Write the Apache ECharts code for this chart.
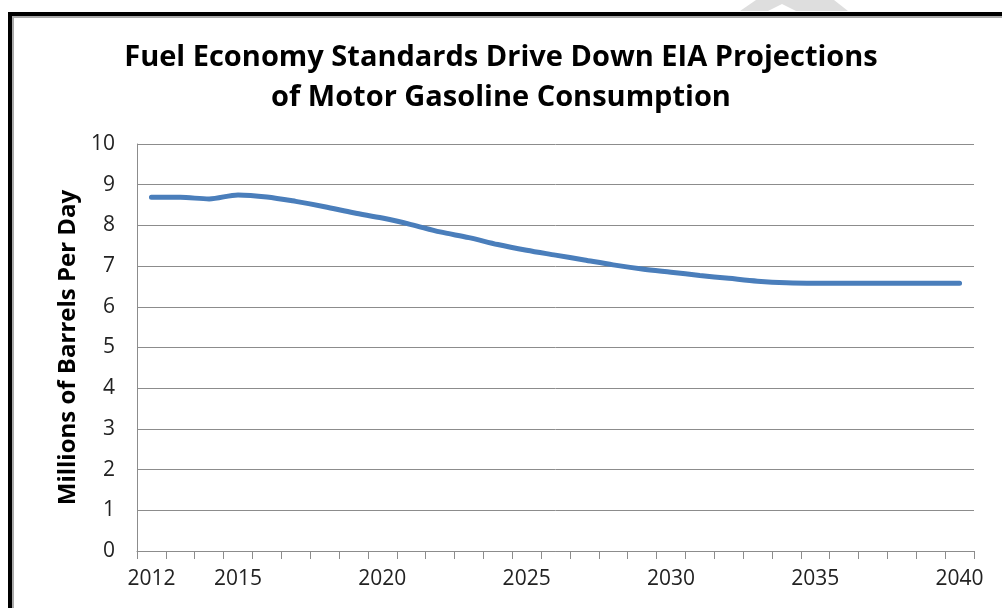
<!DOCTYPE html>
<html>
<head>
<meta charset="utf-8">
<script src="https://cdn.jsdelivr.net/npm/echarts@6/dist/echarts.min.js"></script>
<style>
  html, body { margin: 0; padding: 0; background: #fff; }
  #chart { width: 1002px; height: 608px; }
</style>
</head>
<body>
<div id="chart"></div>
<script>
// years on the x axis
const years = [];
for (let y = 2012; y <= 2040; y++) years.push(String(y));

// motor gasoline consumption, millions of barrels per day
const gasoline = [
  8.69, 8.69, 8.65, 8.75, 8.70, 8.59, 8.46, 8.31, 8.18, 8.02,
  7.84, 7.70, 7.53, 7.39, 7.27, 7.15, 7.03, 6.93, 6.85, 6.77,
  6.70, 6.63, 6.59, 6.58, 6.58, 6.58, 6.58, 6.58, 6.58
];

// labelled years
const labelYears = ['2012', '2015', '2020', '2025', '2030', '2035', '2040'];

const titleText = 'Fuel Economy Standards Drive Down EIA Projections\nof Motor Gasoline Consumption';
const yName = 'Millions of Barrels Per Day';

const chart = echarts.init(document.getElementById('chart'));

const option = {
  backgroundColor: '#fff',
  animation: false,
  title: {
    text: titleText,
    left: 'center',
    top: 33,
    textStyle: {
      fontFamily: 'Open Sans',
      fontSize: 29,
      fontWeight: 'bold',
      color: '#000',
      lineHeight: 40
    }
  },
  grid: {
    left: 137,
    right: 28,
    top: 144,
    bottom: 57,
    containLabel: false
  },
  xAxis: {
    type: 'category',
    data: years,
    boundaryGap: true,
    axisLine: { lineStyle: { color: '#8c8c8c', width: 1 } },
    axisTick: { show: true, interval: 0, length: 8, lineStyle: { color: '#8c8c8c' } },
    axisLabel: {
      interval: function (index, value) { return labelYears.indexOf(value) >= 0; },
      margin: 18,
      fontFamily: 'Open Sans',
      fontSize: 21,
      color: '#222'
    },
    splitLine: { show: false }
  },
  yAxis: {
    type: 'value',
    min: 0,
    max: 10,
    interval: 1,
    name: yName,
    nameLocation: 'middle',
    nameGap: 57,
    nameTextStyle: {
      fontFamily: 'Open Sans',
      fontSize: 24,
      fontWeight: 'bold',
      color: '#000'
    },
    axisLine: { show: true, lineStyle: { color: '#8c8c8c', width: 1 } },
    axisTick: { show: false },
    axisLabel: {
      margin: 22,
      fontFamily: 'Open Sans',
      fontSize: 21,
      color: '#222'
    },
    splitLine: { show: true, lineStyle: { color: '#8c8c8c', width: 1 } }
  },
  series: [
    {
      type: 'line',
      data: gasoline,
      smooth: 0.3,
      symbol: 'none',
      lineStyle: { color: '#4a7ebb', width: 5, cap: 'round' }
    }
  ],
  graphic: [
    // faint shape above the frame
    {
      type: 'polygon',
      silent: true,
      shape: { points: [[740, 11], [756, 0], [834, 0], [848, 11], [796, 11], [782, 4], [768, 11]] },
      style: { fill: '#dedede' }
    },
    // frame shadow
    {
      type: 'polyline',
      silent: true,
      shape: { points: [[13, 620], [13, 17], [1010, 17]] },
      style: { stroke: '#aaaaaa', lineWidth: 2, fill: null }
    },
    // black frame
    {
      type: 'polyline',
      silent: true,
      shape: { points: [[10, 620], [10, 14], [1010, 14]] },
      style: { stroke: '#000', lineWidth: 4, fill: null }
    }
  ]
};

chart.setOption(option);
window.addEventListener('resize', () => chart.resize());
</script>
</body>
</html>
